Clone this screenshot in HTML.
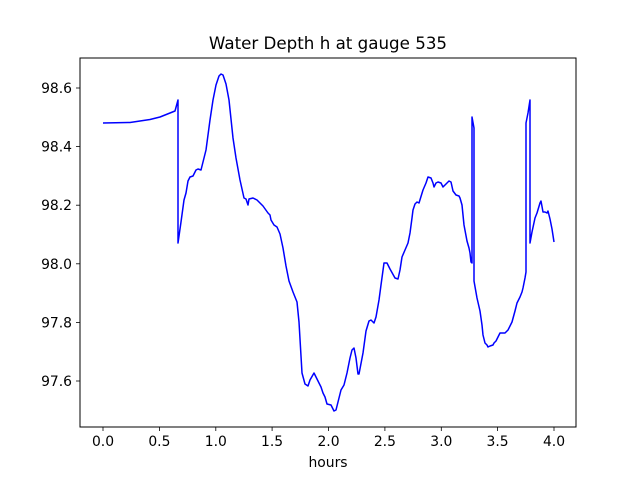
<!DOCTYPE html>
<html><head><meta charset="utf-8"><style>
html,body{margin:0;padding:0;background:#fff;}
text{font-family:"DejaVu Sans","Liberation Sans",sans-serif;font-size:13.9px;fill:#000;}
</style></head><body>
<svg width="640" height="480" xmlns="http://www.w3.org/2000/svg">
<rect x="80" y="58" width="496" height="369" fill="#fff" stroke="#000" stroke-width="1"/>
<g stroke="#000" stroke-width="0.8">
<line x1="103" y1="427" x2="103" y2="431"/><line x1="159.4" y1="427" x2="159.4" y2="431"/><line x1="215.8" y1="427" x2="215.8" y2="431"/><line x1="272.1" y1="427" x2="272.1" y2="431"/><line x1="328.5" y1="427" x2="328.5" y2="431"/><line x1="384.9" y1="427" x2="384.9" y2="431"/><line x1="441.3" y1="427" x2="441.3" y2="431"/><line x1="497.6" y1="427" x2="497.6" y2="431"/><line x1="554" y1="427" x2="554" y2="431"/>
<line x1="76" y1="88" x2="80" y2="88"/><line x1="76" y1="146.6" x2="80" y2="146.6"/><line x1="76" y1="205.2" x2="80" y2="205.2"/><line x1="76" y1="263.8" x2="80" y2="263.8"/><line x1="76" y1="322.4" x2="80" y2="322.4"/><line x1="76" y1="381" x2="80" y2="381"/>
</g>
<g text-anchor="middle">
<text x="103" y="446">0.0</text><text x="159.4" y="446">0.5</text><text x="215.8" y="446">1.0</text><text x="272.1" y="446">1.5</text><text x="328.5" y="446">2.0</text><text x="384.9" y="446">2.5</text><text x="441.3" y="446">3.0</text><text x="497.6" y="446">3.5</text><text x="554" y="446">4.0</text>
<text x="328" y="467">hours</text>
<text x="328" y="49" style="font-size:16.7px">Water Depth h at gauge 535</text>
</g>
<g text-anchor="end">
<text x="72" y="93">98.6</text><text x="72" y="151.6">98.4</text><text x="72" y="210.2">98.2</text><text x="72" y="268.8">98.0</text><text x="72" y="327.4">97.8</text><text x="72" y="386">97.6</text>
</g>
<polyline fill="none" stroke="#0000ff" stroke-width="1.5" stroke-linejoin="round" points="103,123 130,122.5 150,119.5 160,117 170,113 175,111 178,100 178,243 181,222 184,200 186,193 188,181 190,177 193,176 196,170 198,169 201,170 203,162 206,150 210,120 213,100 216,85 219,76 221,74 223,75 226,84 229,100 233,138 236,158 240,180 244,198 246,199 248,205 249,199 253,198 257,200 263,206 268,213 270,215 271,220 274,225 277,227 280,234 283,248 286,266 289,281 293,292 297,302 299,322 302,373 305,384 308,386 310,380 314,373 318,381 320,385 321,387 323,393 325,397 327,404 331,405 334,411 336,410 338,402 341,390 344,385 347,373 350,358 352,350 354,348 356,358 358,374 359,374 363,353 366,331 369,321 371,320 374,323 376,317 379,300 381,285 384,263 387,263 390,269 395,278 398,279 400,270 402,257 405,250 408,243 410,233 412,218 413,210 415,204 417,202 419,203 423,190 426,183 428,177 431,178 433,183 434,187 436,183 438,182 441,183 443,187 446,184 449,181 451,182 453,191 456,195 459,196 460,198 462,205 464,225 467,241 469,248 470,253 471,262 472,263 472,117 474,128 474,281 477,298 480,311 482,325 483,335 485,343 487,345 488,347 490,346 493,345 494,343 496,341 498,337 500,333 502,333 505,333 508,330 512,322 515,311 517,303 520,297 522,292 523,288 525,278 526,272 526,123 528,113 530,100 530,243 532,232 535,218 537,213 540,203 541,201 543,212 545,212 547,213 548,211 550,219 552,229 554,242"/>
</svg>
</body></html>
